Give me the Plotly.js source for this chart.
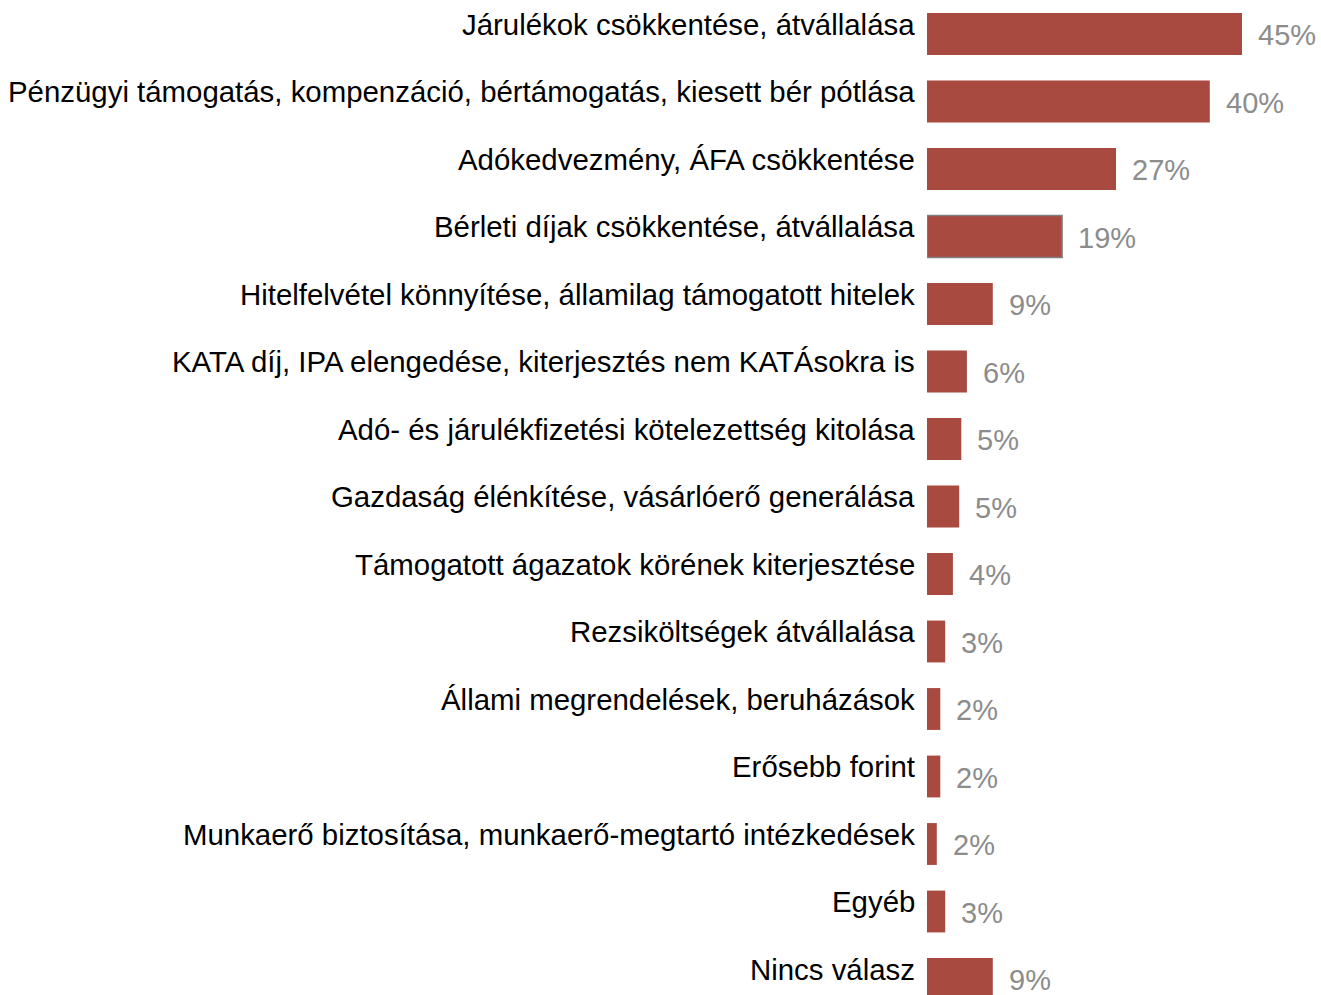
<!DOCTYPE html>
<html>
<head>
<meta charset="utf-8">
<script src="https://cdn.plot.ly/plotly-3.0.1.min.js"></script>
<style>html,body{margin:0;padding:0;background:#fff;}</style>
</head>
<body>
<div id="chart" style="width:1321px;height:995px;"></div>
<script>
const categories = [
  "Járulékok csökkentése, átvállalása",
  "Pénzügyi támogatás, kompenzáció, bértámogatás, kiesett bér pótlása",
  "Adókedvezmény, ÁFA csökkentése",
  "Bérleti díjak csökkentése, átvállalása",
  "Hitelfelvétel könnyítése, államilag támogatott hitelek",
  "KATA díj, IPA elengedése, kiterjesztés nem KATÁsokra is",
  "Adó- és járulékfizetési kötelezettség kitolása",
  "Gazdaság élénkítése, vásárlóerő generálása",
  "Támogatott ágazatok körének kiterjesztése",
  "Rezsiköltségek átvállalása",
  "Állami megrendelések, beruházások",
  "Erősebb forint",
  "Munkaerő biztosítása, munkaerő-megtartó intézkedések",
  "Egyéb",
  "Nincs válasz"
];
const values = [45, 40.4, 27, 19.3, 9.4, 5.7, 4.9, 4.6, 3.7, 2.6, 1.9, 1.9, 1.4, 2.6, 9.4];
const valueLabels = ["45%", "40%", "27%", "19%", "9%", "6%", "5%", "5%", "4%", "3%", "2%", "2%", "2%", "3%", "9%"];

const idx = categories.map((_, i) => i);
const lineColors = categories.map((_, i) => i === 3 ? "#7f7f7f" : "rgba(0,0,0,0)");
const lineWidths = categories.map((_, i) => i === 3 ? 1.5 : 0);

const trace = {
  type: "bar",
  orientation: "h",
  x: values,
  y: idx,
  width: 0.62,
  marker: { color: "#A84A40", line: { color: lineColors, width: lineWidths } },
  hoverinfo: "skip"
};

const annotations = [];
categories.forEach((c, i) => {
  annotations.push({
    xref: "paper", yref: "y", x: 0, y: i,
    text: c, showarrow: false, xanchor: "right", yanchor: "middle",
    xshift: -10, yshift: 10,
    font: { family: "'Liberation Sans', Arial, sans-serif", size: 29.4, color: "#000" }
  });
  annotations.push({
    xref: "x", yref: "y", x: values[i], y: i,
    text: valueLabels[i], showarrow: false, xanchor: "left", yanchor: "middle",
    xshift: 14, yshift: -1,
    font: { family: "'Liberation Sans', Arial, sans-serif", size: 29, color: "#8c8c8c" }
  });
});

const layout = {
  width: 1321, height: 995,
  margin: { l: 927, r: 0, t: 0, b: 0, pad: 0 },
  paper_bgcolor: "#fff", plot_bgcolor: "#fff",
  showlegend: false,
  xaxis: { range: [0, 394 / 7], visible: false, fixedrange: true },
  yaxis: { range: [(995 - 34) / 67.5, -34 / 67.5], visible: false, fixedrange: true },
  annotations: annotations
};

Plotly.newPlot("chart", [trace], layout, { displayModeBar: false, staticPlot: true });
</script>
</body>
</html>
